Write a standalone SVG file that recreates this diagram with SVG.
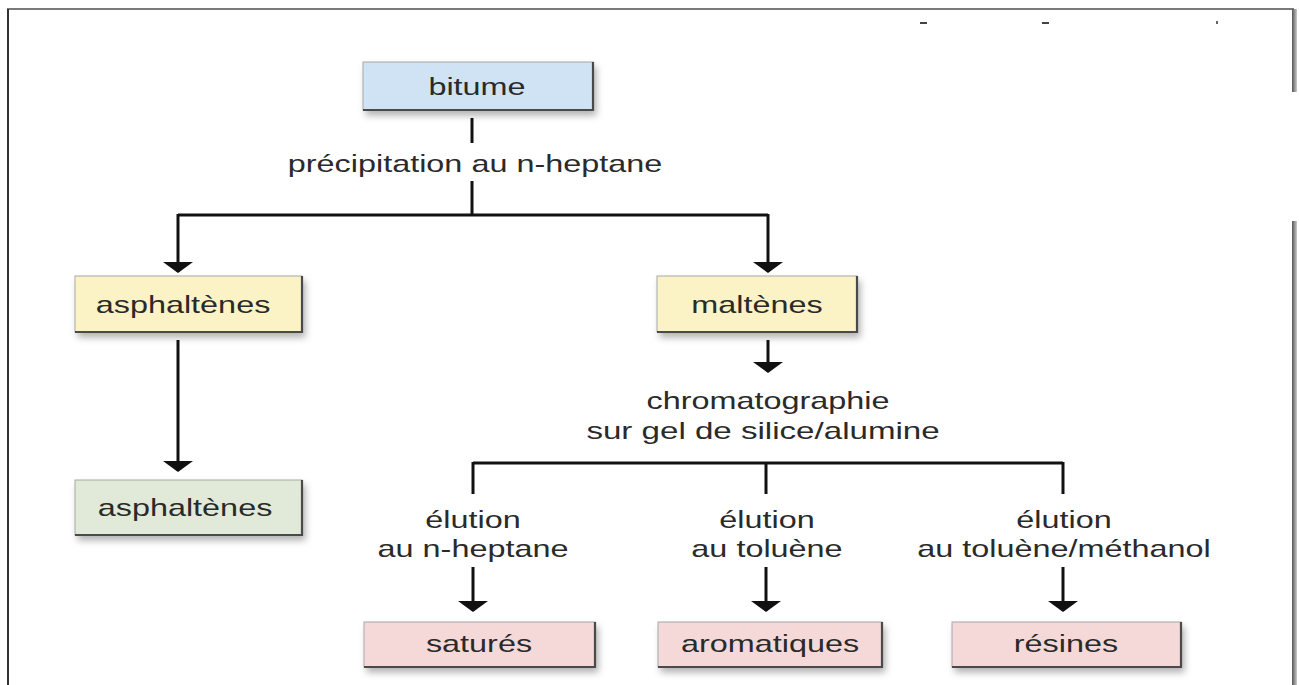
<svg xmlns="http://www.w3.org/2000/svg" width="1299" height="685" viewBox="0 0 1299 685">
<style>
.lbl{font-family:"Liberation Sans",Arial,sans-serif;font-size:24px;fill:#2a2a2a;text-anchor:middle}
.box{stroke:#a8a8a8;stroke-width:1;filter:url(#sh)}
.edge{fill:none;stroke:#4a4a4a;stroke-width:2.2}
.ln{fill:none;stroke:#111;stroke-width:3}
.arr{fill:none;stroke:#111;stroke-width:3;marker-end:url(#ah)}
.blue{fill:#cfe3f5}.yel{fill:#fbf3c6}.grn{fill:#e1eAd8}.pink{fill:#f5d9d8}
</style>
<defs>
<filter id="sh" x="-10%" y="-20%" width="130%" height="160%">
<feDropShadow dx="3" dy="5" stdDeviation="3.5" flood-color="#000" flood-opacity="0.3"/>
</filter>
<marker id="ah" viewBox="0 -15 11 30" refX="10" refY="0" markerWidth="11" markerHeight="30" markerUnits="userSpaceOnUse" orient="auto">
<path d="M0,-15 L11,0 L0,15 Z" fill="#111"/>
</marker>
<linearGradient id="rs" x1="0" x2="1" y1="0" y2="0">
<stop offset="0" stop-color="#555"/><stop offset="1" stop-color="#ccc"/>
</linearGradient>
</defs>
<g id="frame">
<line x1="7" y1="9" x2="1294" y2="9" stroke="#7a7a7a" stroke-width="2"/>
<line x1="8" y1="9" x2="8" y2="685" stroke="#333" stroke-width="2"/>
<rect x="1292" y="9" width="5" height="83" fill="url(#rs)"/>
<rect x="1292" y="221" width="5" height="464" fill="url(#rs)"/>
<rect x="920" y="22" width="7" height="2" fill="#444"/>
<rect x="1042" y="22" width="7" height="2" fill="#444"/>
<rect x="1216" y="21" width="2" height="3" fill="#666"/>
</g>
<g id="connectors">
<line class="ln" x1="472" y1="118" x2="472" y2="143"/>
<line class="ln" x1="472" y1="181" x2="472" y2="215"/>
<polyline class="ln" points="178,215 768,215"/>
<line class="arr" x1="178" y1="214" x2="178" y2="272"/>
<line class="arr" x1="768" y1="214" x2="768" y2="272"/>
<line class="arr" x1="178" y1="340" x2="178" y2="471"/>
<line class="arr" x1="768" y1="340" x2="768" y2="372"/>
<line class="ln" x1="473" y1="463" x2="1063" y2="463"/>
<line class="ln" x1="473" y1="462" x2="473" y2="494"/>
<line class="ln" x1="766" y1="462" x2="766" y2="494"/>
<line class="ln" x1="1063" y1="462" x2="1063" y2="494"/>
<line class="arr" x1="473" y1="567" x2="473" y2="611"/>
<line class="arr" x1="766" y1="567" x2="766" y2="611"/>
<line class="arr" x1="1063" y1="567" x2="1063" y2="611"/>
<text class="lbl" transform="translate(475,172) scale(1.35,1)">précipitation au n-heptane</text>
<text class="lbl" transform="translate(768,409) scale(1.35,1)">chromatographie</text>
<text class="lbl" transform="translate(763,439) scale(1.38,1)">sur gel de silice/alumine</text>
<text class="lbl" transform="translate(473,528) scale(1.35,1)">élution</text>
<text class="lbl" transform="translate(473,557) scale(1.35,1)">au n-heptane</text>
<text class="lbl" transform="translate(767,528) scale(1.35,1)">élution</text>
<text class="lbl" transform="translate(767,557) scale(1.35,1)">au toluène</text>
<text class="lbl" transform="translate(1064,528) scale(1.35,1)">élution</text>
<text class="lbl" transform="translate(1064,557) scale(1.35,1)">au toluène/méthanol</text>
</g>
<g id="bitume">
<rect class="box blue" x="363" y="62" width="230" height="48"/>
<polyline class="edge" points="593,62 593,110 363,110"/>
<text class="lbl" transform="translate(477,95) scale(1.35,1)">bitume</text>
</g>
<g id="asphaltenes1">
<rect class="box yel" x="75" y="276" width="227" height="56"/>
<polyline class="edge" points="302,276 302,332 75,332"/>
<text class="lbl" transform="translate(183,313) scale(1.35,1)">asphaltènes</text>
</g>
<g id="maltenes">
<rect class="box yel" x="657" y="276" width="200" height="56"/>
<polyline class="edge" points="857,276 857,332 657,332"/>
<text class="lbl" transform="translate(757,313) scale(1.35,1)">maltènes</text>
</g>
<g id="asphaltenes2">
<rect class="box grn" x="75" y="480" width="227" height="55"/>
<polyline class="edge" points="302,480 302,535 75,535"/>
<text class="lbl" transform="translate(185,516) scale(1.35,1)">asphaltènes</text>
</g>
<g id="satures">
<rect class="box pink" x="364" y="622" width="231" height="45"/>
<polyline class="edge" points="595,622 595,667 364,667"/>
<text class="lbl" transform="translate(479,652) scale(1.35,1)">saturés</text>
</g>
<g id="aromatiques">
<rect class="box pink" x="658" y="622" width="224" height="45"/>
<polyline class="edge" points="882,622 882,667 658,667"/>
<text class="lbl" transform="translate(770,652) scale(1.35,1)">aromatiques</text>
</g>
<g id="resines">
<rect class="box pink" x="952" y="622" width="229" height="45"/>
<polyline class="edge" points="1181,622 1181,667 952,667"/>
<text class="lbl" transform="translate(1066,652) scale(1.35,1)">résines</text>
</g>
</svg>
